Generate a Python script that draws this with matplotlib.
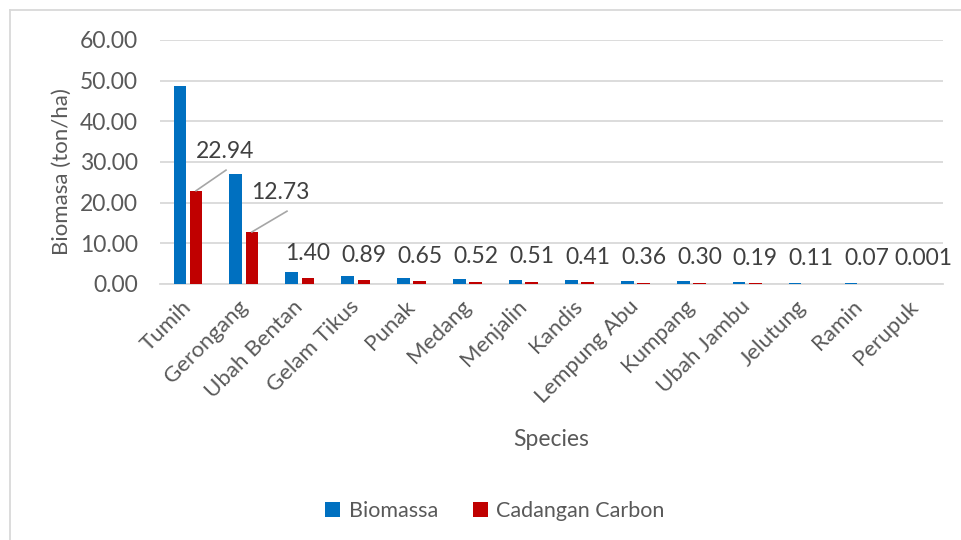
import matplotlib
matplotlib.use("Agg")
import matplotlib.pyplot as plt
import numpy as np
from matplotlib.lines import Line2D

species = ["Tumih", "Gerongang", "Ubah Bentan", "Gelam Tikus", "Punak", "Medang",
           "Menjalin", "Kandis", "Lempung Abu", "Kumpang", "Ubah Jambu", "Jelutung",
           "Ramin", "Perupuk"]
biomassa = [48.8, 27.1, 2.98, 1.89, 1.38, 1.11, 1.09, 0.87, 0.77, 0.64, 0.40, 0.23, 0.15, 0.002]
carbon = [22.94, 12.73, 1.40, 0.89, 0.65, 0.52, 0.51, 0.41, 0.36, 0.30, 0.19, 0.11, 0.07, 0.001]
carbon_labels = ["22.94", "12.73", "1.40", "0.89", "0.65", "0.52", "0.51", "0.41", "0.36",
                 "0.30", "0.19", "0.11", "0.07", "0.001"]

plt.rcParams['font.family'] = ['Lato', 'DejaVu Sans']
txt = "#595959"
grid = "#D9D9D9"

fig = plt.figure(figsize=(9.62, 5.40), dpi=100)
ax = fig.add_axes([160/962, 1-284/540, (943-160)/962, 244/540])

x = np.arange(len(species))
w = 0.225
ax.bar(x - 0.145, biomassa, w, color="#0070C0", label="Biomassa", zorder=3)
ax.bar(x + 0.145, carbon, w, color="#C00000", label="Cadangan Carbon", zorder=3)

ax.set_xlim(-0.5, len(species) - 0.5)
ax.set_ylim(0, 60)
ax.set_yticks(np.arange(0, 61, 10))
ax.set_yticklabels([f"{v:.2f}" for v in np.arange(0, 61, 10)])
ax.yaxis.grid(True, color=grid, lw=1.3, zorder=0)
ax.set_axisbelow(True)
for s in ["top", "right", "left"]:
    ax.spines[s].set_visible(False)
ax.spines["bottom"].set_color(grid)
ax.spines["bottom"].set_linewidth(1.3)
ax.tick_params(axis="both", length=0, colors=txt, labelsize=16.5)
ax.tick_params(axis="y", pad=16)
ax.set_xticks(x)
ax.set_xticklabels(species, rotation=45, ha="right", va="center",
                   rotation_mode="anchor", color=txt, fontsize=16)
ax.tick_params(axis="x", pad=14)

# labels with leader lines for the two big ones
leaders = {0: ((0.145, 22.94), (0.68, 28.0), (0.66, 32.5)),
           1: ((1.143, 12.8), (1.77, 17.9), (1.65, 22.4))}
for i, lab in enumerate(carbon_labels):
    if i in leaders:
        p0, p1, pt = leaders[i]
        ax.plot([p0[0], p1[0]], [p0[1], p1[1]], color="#A6A6A6", lw=1.2, zorder=4)
        ax.text(pt[0], pt[1], lab, ha="center", va="center", fontsize=16.5, color="#404040")
    else:
        ax.annotate(lab, (x[i] + 0.145, carbon[i]), xytext=(0, 18),
                    textcoords="offset points", ha="center", va="center",
                    fontsize=16.5, color="#404040")

fig.text(62/962, 1-172/540, "Biomasa (ton/ha)", rotation=90, ha="center", va="center",
         fontsize=16, color=txt)
fig.text(551/962, 1-440/540, "Species", ha="center", va="center", fontsize=16.5, color=txt)

fig.legend(loc="center", bbox_to_anchor=(495/962, 1-511/540), ncol=2, frameon=False,
           fontsize=15.5, handlelength=0.7, handleheight=0.7, handletextpad=0.4,
           columnspacing=1.6, labelcolor=txt)

# chart border (cut at right and bottom)
fig.add_artist(Line2D([10/962, 10/962], [0, 1-10/540], color=grid, lw=1.3))
fig.add_artist(Line2D([10/962, 1], [1-10/540, 1-10/540], color=grid, lw=1.3))

fig.savefig("out.png", dpi=100)
